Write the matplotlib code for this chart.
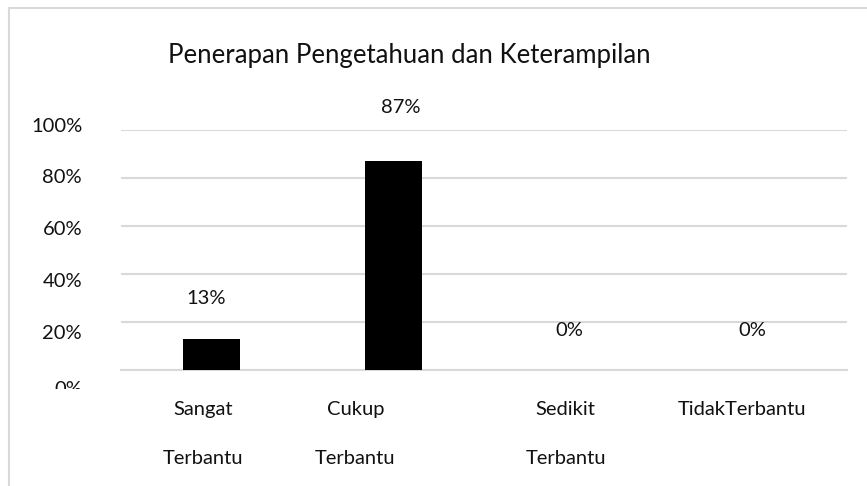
import matplotlib
matplotlib.use("Agg")
import matplotlib.pyplot as plt
import matplotlib.transforms as mtransforms
from matplotlib.patches import Rectangle
import numpy as np

categories = ["Sangat\nTerbantu", "Cukup\nTerbantu", "Sedikit\nTerbantu", "TidakTerbantu\n "]
values = [0.13, 0.87, 0.0, 0.0]
value_labels = ["13%", "87%", "0%", "0%"]
ytick_values = [0.0, 0.2, 0.4, 0.6, 0.8, 1.0]
ytick_labels = ["0%", "20%", "40%", "60%", "80%", "100%"]
title = "Penerapan Pengetahuan dan Keterampilan"

W, H = 867, 486
DPI = 100
plt.rcParams['font.family'] = ['Lato', 'DejaVu Sans']
TXT = "#111111"

fig = plt.figure(figsize=(W / DPI, H / DPI), dpi=DPI)
fig.patch.set_facecolor("white")

# chart border
fig.add_artist(Rectangle((9 / W, -0.1), 1.2, 1 - 8 / H + 0.1, transform=fig.transFigure,
                         fill=False, edgecolor="#d9d9d9", linewidth=1.5))

left, right = 121 / W, 847 / W
bottom, top = 1 - 370 / H, 1 - 130 / H
ax = fig.add_axes([left, bottom, right - left, top - bottom])

x = np.arange(len(categories))
ax.bar(x, values, width=0.315, color="black", zorder=3)
ax.set_xlim(-0.5, len(categories) - 0.5)
ax.set_ylim(0, 1.0)

for s in ["top", "right", "left"]:
    ax.spines[s].set_visible(False)
ax.spines["bottom"].set_color("#d9d9d9")
ax.spines["bottom"].set_linewidth(1.5)
ax.spines["bottom"].set_zorder(2)

ax.set_yticks(ytick_values)
ax.set_yticklabels(ytick_labels, fontsize=14.5, color=TXT)
ax.yaxis.grid(True, color="#d9d9d9", linewidth=1.5, zorder=0)
ax.tick_params(axis="y", length=0, pad=28)
ax.tick_params(axis="x", length=0, pad=22)

# per-label vertical shifts (px) to mimic the reference rendering
y_shifts = [-18, -10, -6, -2, 2, 5]
for lab, dy in zip(ax.get_yticklabels(), y_shifts):
    lab.set_transform(lab.get_transform() + mtransforms.Affine2D().translate(0, dy))
# clip the bottom "0%" label like in the reference
lab0 = ax.get_yticklabels()[0]
lab0.set_clip_box(mtransforms.TransformedBbox(mtransforms.Bbox.from_extents(0, 1 - 389 / H, 1, 1), fig.transFigure))
lab0.set_clip_on(True)

ax.set_xticks(x)
ax.set_xticklabels(categories, fontsize=14.5, color=TXT, linespacing=3.3, va="top")
x_shifts = [-9, -38, -9, -14]
for lab, dx in zip(ax.get_xticklabels(), x_shifts):
    lab.set_transform(lab.get_transform() + mtransforms.Affine2D().translate(dx, 0))

label_off = [(-6, 40), (8, 54), (-5, 40), (-4, 40)]
for xi, v, t, (dx, dy) in zip(x, values, value_labels, label_off):
    ax.annotate(t, (xi, v), xytext=(dx * 0.72, dy * 0.72), textcoords="offset points",
                ha="center", va="center", fontsize=14.5, color=TXT, annotation_clip=False)

fig.text(409 / W, 1 - 56 / H, title, ha="center", va="center", fontsize=18.5, color=TXT)

fig.savefig("out.png", dpi=DPI)
